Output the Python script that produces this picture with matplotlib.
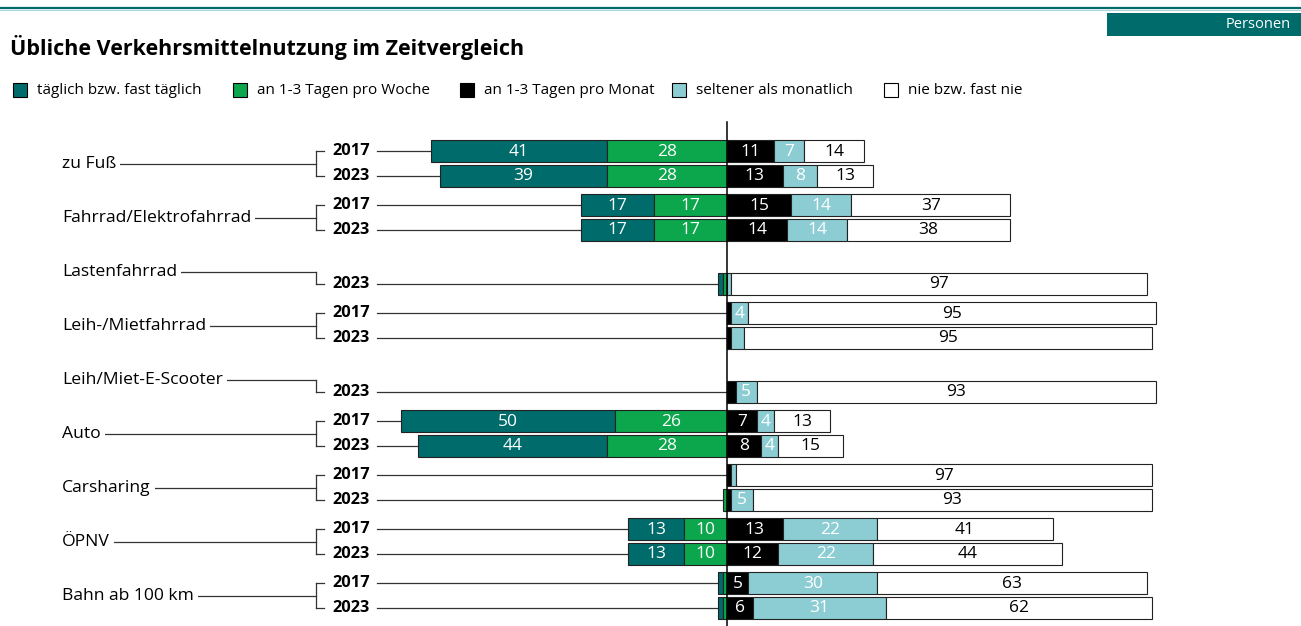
import matplotlib.pyplot as plt
from matplotlib.patches import Rectangle

plt.rcParams['font.family'] = ['Open Sans', 'DejaVu Sans']

# Daten
categories = ["zu Fuß", "Fahrrad/Elektrofahrrad", "Lastenfahrrad", "Leih-/Mietfahrrad",
              "Leih/Miet-E-Scooter", "Auto", "Carsharing", "ÖPNV", "Bahn ab 100 km"]
row_cat = [0, 0, 1, 1, 2, 3, 3, 4, 5, 5, 6, 6, 7, 7, 8, 8]
row_year = ["2017", "2023", "2017", "2023", "2023", "2017", "2023", "2023",
            "2017", "2023", "2017", "2023", "2017", "2023", "2017", "2023"]
taeglich = [41, 39, 17, 17, 1, 0, 0, 0, 50, 44, 0, 0, 13, 13, 1, 1]
woche = [28, 28, 17, 17, 1, 0, 0, 0, 26, 28, 0, 1, 10, 10, 1, 1]
monat = [11, 13, 15, 14, 0, 1, 1, 2, 7, 8, 1, 1, 13, 12, 5, 6]
seltener = [7, 8, 14, 14, 1, 4, 3, 5, 4, 4, 1, 5, 22, 22, 30, 31]
nie = [14, 13, 37, 38, 97, 95, 95, 93, 13, 15, 97, 93, 41, 44, 63, 62]

legend_labels = ["täglich bzw. fast täglich", "an 1-3 Tagen pro Woche", "an 1-3 Tagen pro Monat",
                 "seltener als monatlich", "nie bzw. fast nie"]
colors = ["#006b6b", "#0ca64c", "#000000", "#8ccdd4", "#ffffff"]
text_colors = ["white", "white", "white", "white", "black"]

W, H = 1301, 626
CENTER, SCALE = 727, 4.29


def X(px):
    # Pixelposition -> Prozentachse
    return (px - CENTER) / SCALE


fig = plt.figure(figsize=(W / 100, H / 100), dpi=100)
ax = fig.add_axes([0, 0, 1, 1])
ax.set_xlim(X(0), X(W))
ax.set_ylim(H, 0)
ax.axis('off')

# Kopfzeile
ax.plot([X(0), X(W)], [7.5, 7.5], color="#006b6b", lw=1.6)
ax.plot([X(0), X(W)], [9.5, 9.5], color="#a9d8dc", lw=0.8)
ax.add_patch(Rectangle((X(1107), 13), X(1301) - X(1107), 23, color="#006b6b", lw=0))
ax.text(X(1291), 25, "Personen", color="white", fontsize=10.5, ha='right', va='center')
ax.text(X(10), 48, "Übliche Verkehrsmittelnutzung im Zeitvergleich", fontsize=15.5,
        fontweight='bold', ha='left', va='center')

# Legende
leg_x = [13, 233, 460, 672, 884]
for lx, lab, c in zip(leg_x, legend_labels, colors):
    ax.add_patch(Rectangle((X(lx), 83), 14 / SCALE, 14, facecolor=c, edgecolor="black", lw=0.8))
    ax.text(X(lx + 24), 90, lab, fontsize=11.0, ha='left', va='center')

# Positionen
group_y = [163.5 + 54 * i for i in range(len(categories))]
row_y = [group_y[c] + (-12.5 if y == "2017" else 12.5) for c, y in zip(row_cat, row_year)]
bar_h = 22

# Mittellinie
ax.plot([0, 0], [122, H], color="black", lw=1.1, zorder=5)

# Balken
for i in range(len(row_y)):
    y = row_y[i]
    segs = [(-(taeglich[i] + woche[i]), taeglich[i]), (-woche[i], woche[i]),
            (0, monat[i]), (monat[i], seltener[i]), (monat[i] + seltener[i], nie[i])]
    for k, (left, w) in enumerate(segs):
        if w <= 0:
            continue
        ax.barh(y, w, left=left, height=bar_h, color=colors[k], edgecolor="#222222", lw=0.8, zorder=3)
        if w >= 4:
            ax.text(left + w / 2, y + 0.5, str(w), color=text_colors[k], fontsize=12.5,
                    ha='center', va='center', zorder=4)
    # Jahreslabel und Linie zum Balken
    ax.text(X(332), y, row_year[i], fontsize=11.8, fontweight='bold', ha='left', va='center')
    end = -(taeglich[i] + woche[i])
    ax.plot([X(377), end], [y, y], color="#333333", lw=0.9, zorder=2)
    ax.plot([X(316), X(324)], [y, y], color="#333333", lw=0.9)

# Kategorien und Klammern
for c, name in enumerate(categories):
    gy = group_y[c]
    ys = [row_y[i] for i in range(len(row_y)) if row_cat[i] == c]
    ax.plot([X(316), X(316)], [min(ys + [gy]), max(ys + [gy])], color="#333333", lw=0.9)
    ax.plot([X(70), X(316)], [gy, gy], color="#333333", lw=0.9, zorder=1)
    ax.text(X(62), gy, name, fontsize=12.6, ha='left', va='center', zorder=2,
            bbox=dict(facecolor="white", edgecolor="none", pad=3))

fig.savefig("out.png", dpi=100)
